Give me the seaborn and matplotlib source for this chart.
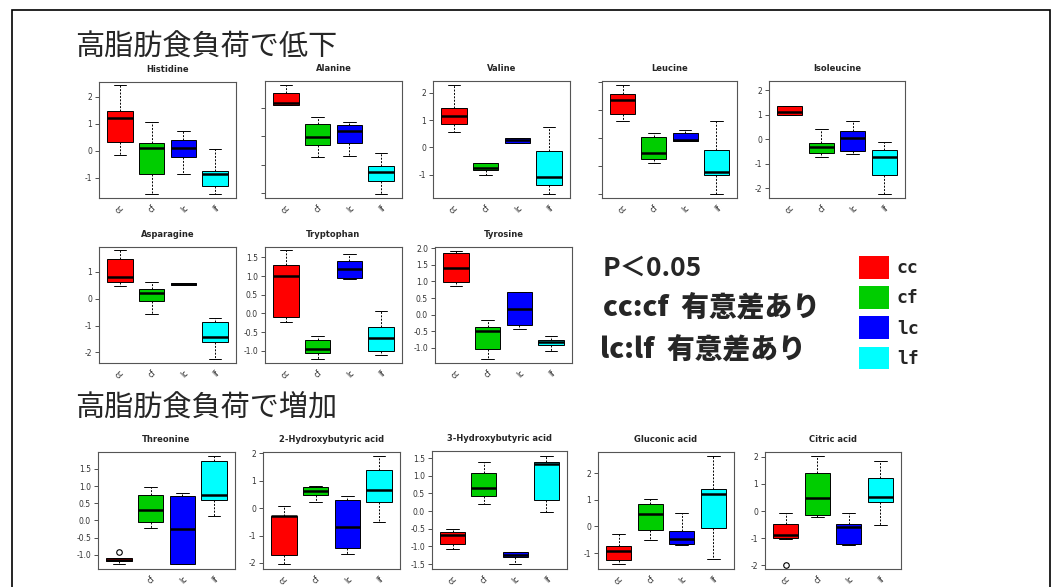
import numpy as np
import pandas as pd
import matplotlib
matplotlib.use('Agg')
import matplotlib.pyplot as plt
from matplotlib.patches import Patch, Rectangle
import seaborn as sns

groups = ['cc', 'cf', 'lc', 'lf']
colors = ['#FF0000', '#00CD00', '#0000FF', '#00FFFF']

# per group: lower whisker, Q1, median, Q3, upper whisker
histidine = [[-0.17, 0.32, 1.22, 1.48, 2.43], [-1.61, -0.85, 0.11, 0.27, 1.05],
             [-0.87, -0.22, 0.09, 0.39, 0.72], [-1.60, -1.31, -0.87, -0.75, 0.05]]
alanine = [[1.09, 1.09, 1.18, 1.51, 1.80], [-0.72, -0.31, -0.02, 0.42, 0.68],
           [-0.69, -0.25, 0.18, 0.39, 0.50], [-2.04, -1.57, -1.27, -1.05, -0.60]]
valine = [[0.55, 0.84, 1.16, 1.43, 2.27], [-1.00, -0.82, -0.76, -0.57, -0.57],
          [0.17, 0.17, 0.27, 0.36, 0.36], [-1.69, -1.37, -1.08, -0.12, 0.76]]
leucine = [[0.60, 0.85, 1.35, 1.56, 1.88], [-0.89, -0.76, -0.56, 0.04, 0.19],
           [-0.12, -0.12, -0.08, 0.16, 0.28], [-2.02, -1.33, -1.21, -0.44, 0.60]]
isoleucine = [[0.98, 0.98, 1.10, 1.37, 1.37], [-0.71, -0.54, -0.33, -0.14, 0.41],
              [-0.60, -0.46, 0.04, 0.34, 0.76], [-2.22, -1.45, -0.71, -0.43, -0.10]]
asparagine = [[0.46, 0.62, 0.79, 1.46, 1.80], [-0.59, -0.08, 0.21, 0.35, 0.60],
              [0.50, 0.50, 0.53, 0.56, 0.56], [-2.25, -1.62, -1.41, -0.86, -0.73]]
tryptophan = [[-0.22, -0.11, 1.00, 1.31, 1.69], [-1.23, -1.05, -0.96, -0.71, -0.61],
              [0.91, 0.96, 1.18, 1.40, 1.60], [-1.11, -1.00, -0.67, -0.37, 0.07]]
tyrosine = [[0.87, 0.99, 1.42, 1.87, 1.92], [-1.34, -1.03, -0.48, -0.36, -0.16],
            [-0.44, -0.31, 0.17, 0.67, 0.69], [-1.09, -0.91, -0.84, -0.78, -0.66]]
threonine = [[-1.27, -1.17, -1.14, -1.10, -1.10], [-0.23, -0.03, 0.30, 0.74, 0.98],
             [-1.27, -1.27, -0.26, 0.72, 0.81], [0.14, 0.59, 0.74, 1.72, 1.88]]
hydroxybutyric_2 = [[-2.05, -1.71, -0.28, -0.28, 0.07], [0.23, 0.47, 0.64, 0.76, 0.81],
                    [-1.68, -1.44, -0.68, 0.29, 0.45], [-0.50, 0.21, 0.68, 1.41, 1.90]]
hydroxybutyric_3 = [[-1.06, -0.93, -0.68, -0.59, -0.52], [0.19, 0.43, 0.64, 1.09, 1.38],
                    [-1.51, -1.29, -1.25, -1.17, -1.15], [-0.02, 0.30, 1.32, 1.40, 1.57]]
gluconic = [[-1.42, -1.26, -0.93, -0.73, -0.30], [-0.52, -0.14, 0.47, 0.84, 1.01],
            [-0.70, -0.67, -0.49, -0.18, 0.49], [-1.24, -0.07, 1.20, 1.39, 2.64]]
citric = [[-1.03, -1.01, -0.89, -0.49, -0.08], [-0.22, -0.15, 0.47, 1.41, 2.04],
          [-1.25, -1.22, -0.58, -0.49, -0.08], [-0.52, 0.32, 0.52, 1.23, 1.85]]
threonine_outliers = {'group': ['cc'], 'value': [-0.92]}
citric_outliers = {'group': ['cc'], 'value': [-1.99]}

sns.set_theme(style='ticks')
plt.rcParams['font.family'] = ['DejaVu Sans', 'Noto Sans CJK JP']

W, H = 1060, 587
fig = plt.figure(figsize=(W / 100, H / 100), dpi=100)


def draw_panel(name, stats, box, ylim, ticks, labels=True, outliers=None, hide_x=()):
    l, t, r, b = box
    ax = fig.add_axes([l / W, 1 - b / H, (r - l) / W, (b - t) / H])
    df = pd.DataFrame({'group': np.repeat(groups, 5), 'value': np.concatenate(stats)})
    sns.boxplot(data=df, x='group', y='value', hue='group', order=groups, hue_order=groups,
                palette=colors, legend=False, whis=(0, 100), width=0.8, saturation=1,
                linecolor='black', linewidth=0.7, showfliers=False,
                medianprops=dict(linewidth=1.8),
                whiskerprops=dict(linestyle=(0, (2, 1.5))), ax=ax)
    if outliers is not None:
        sns.stripplot(data=pd.DataFrame(outliers), x='group', y='value', order=groups,
                      jitter=False, color='white', edgecolor='black', linewidth=0.8,
                      size=4, ax=ax)
    ax.set_xlim(-0.66, 3.66)
    ax.set_ylim(*ylim)
    ax.set_yticks(ticks)
    if labels:
        fmt = '%d' if all(float(v).is_integer() for v in ticks) else '%.1f'
        ax.set_yticklabels([fmt % v for v in ticks])
    else:
        ax.set_yticklabels([])
    ax.set_xticks(range(len(groups)))
    ax.set_xticklabels(['' if g in hide_x else g for g in groups], rotation=45,
                       ha='right', rotation_mode='anchor')
    ax.tick_params(axis='y', labelsize=5.5, length=3, width=0.6, colors='#333333', pad=2)
    ax.tick_params(axis='x', labelsize=5.5, length=0, colors='#222222', pad=4)
    ax.set_xlabel('')
    ax.set_ylabel('')
    ax.set_title(name, fontsize=6, fontweight='bold', pad=7)
    for s in ax.spines.values():
        s.set_visible(True)
        s.set_color('#555555')
        s.set_linewidth(0.8)
    return ax


draw_panel('Histidine', histidine, (99, 82, 236, 198), (-1.75, 2.54), [-1, 0, 1, 2])
draw_panel('Alanine', alanine, (265, 81, 402, 198), (-2.17, 1.94), [-2, -1, 0, 1], labels=False)
draw_panel('Valine', valine, (433, 81, 570, 198), (-1.84, 2.42), [-1, 0, 1, 2])
draw_panel('Leucine', leucine, (602, 81, 737, 198), (-2.15, 2.03), [-2, -1, 0, 1, 2], labels=False)
draw_panel('Isoleucine', isoleucine, (769, 81, 905, 198), (-2.39, 2.37), [-2, -1, 0, 1, 2])
draw_panel('Asparagine', asparagine, (99, 247, 236, 363), (-2.39, 1.91), [-2, -1, 0, 1])
draw_panel('Tryptophan', tryptophan, (265, 247, 402, 363), (-1.33, 1.78),
           [-1.0, -0.5, 0.0, 0.5, 1.0, 1.5])
draw_panel('Tyrosine', tyrosine, (435, 247, 572, 363), (-1.46, 2.04),
           [-1.0, -0.5, 0.0, 0.5, 1.0, 1.5, 2.0])
draw_panel('Threonine', threonine, (98, 452, 235, 569), (-1.41, 1.99),
           [-1.0, -0.5, 0.0, 0.5, 1.0, 1.5], outliers=threonine_outliers, hide_x=('cc',))
draw_panel('2-Hydroxybutyric acid', hydroxybutyric_2, (263, 452, 400, 569), (-2.22, 2.05),
           [-2, -1, 0, 1, 2])
draw_panel('3-Hydroxybutyric acid', hydroxybutyric_3, (432, 451, 567, 569), (-1.64, 1.70),
           [-1.5, -1.0, -0.5, 0.0, 0.5, 1.0, 1.5])
draw_panel('Gluconic acid', gluconic, (598, 452, 734, 569), (-1.60, 2.79), [-1, 0, 1, 2])
draw_panel('Citric acid', citric, (765, 452, 901, 569), (-2.14, 2.18), [-2, -1, 0, 1, 2],
           outliers=citric_outliers)

jp = ['Noto Sans CJK JP', 'DejaVu Sans']
fig.text(75 / W, 1 - 48 / H, '高脂肪食負荷で低下', fontsize=21, va='center', ha='left', family=jp)
fig.text(75 / W, 1 - 408 / H, '高脂肪食負荷で増加', fontsize=21, va='center', ha='left', family=jp)
fig.text(603 / W, 1 - 268 / H, 'P＜0.05', fontsize=19, fontweight='bold', va='center',
         ha='left', family=jp)
fig.text(603 / W, 1 - 307 / H, 'cc:cf  有意差あり', fontsize=20, fontweight='black',
         va='center', ha='left', family=jp)
fig.text(600 / W, 1 - 349 / H, 'lc:lf  有意差あり', fontsize=20, fontweight='black',
         va='center', ha='left', family=jp)

handles = [Patch(facecolor=c, edgecolor='none') for c in colors]
fig.legend(handles, groups, loc='upper left', bbox_to_anchor=(859 / W, 1 - 256 / H),
           frameon=False, handlelength=1.65, handleheight=1.55, labelspacing=0.42,
           handletextpad=0.45, borderpad=0, borderaxespad=0,
           prop=dict(family='DejaVu Sans Mono', weight='bold', size=13))

fig.patches.append(Rectangle((12 / W, -0.05), (1050 - 12) / W, 1.05 - 10 / H,
                             transform=fig.transFigure, fill=False, edgecolor='black',
                             linewidth=1.2))

fig.savefig('out.png', dpi=100, facecolor='white')
